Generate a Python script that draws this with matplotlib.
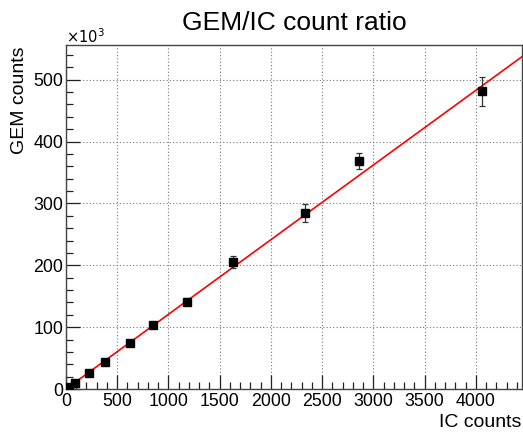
import matplotlib.pyplot as plt
from matplotlib.ticker import MultipleLocator
import numpy as np

plt.rcParams['font.family'] = ['Liberation Sans', 'DejaVu Sans']

# IC vs GEM counts per run
ic_counts = [32, 84, 227, 376, 620, 845, 1179, 1630, 2330, 2856, 4057]
gem_counts = [3200, 9700, 25800, 43000, 74300, 102700, 141000, 204500, 284300, 368800, 481000]
gem_errors = [300, 800, 1500, 2200, 3000, 3500, 5500, 9700, 14500, 13400, 23700]

# linear fit result (GEM = p0 + p1 * IC)
fit_p0 = 0.0
fit_p1 = 120.7

x_max = 4450
y_max = 556  # in units of 10^3

fig = plt.figure(figsize=(5.23, 4.32), dpi=100)
ax = fig.add_axes([66 / 523, 1 - 389 / 432, 456 / 523, 344 / 432])

x = np.array(ic_counts, dtype=float)
y = np.array(gem_counts, dtype=float) / 1e3
yerr = np.array(gem_errors, dtype=float) / 1e3

xf = np.linspace(0, x_max, 200)
ax.plot(xf, (fit_p0 + fit_p1 * xf) / 1e3, color='#ff0000', lw=1.2, zorder=3)

ax.errorbar(x, y, yerr=yerr, fmt='s', color='black', ms=5.6,
            ecolor='#333333', elinewidth=0.9, capsize=2.2, capthick=0.9, zorder=4)

ax.set_xlim(0, x_max)
ax.set_ylim(0, y_max)

ax.xaxis.set_major_locator(MultipleLocator(500))
ax.xaxis.set_minor_locator(MultipleLocator(100))
ax.yaxis.set_major_locator(MultipleLocator(100))
ax.yaxis.set_minor_locator(MultipleLocator(20))

ax.tick_params(which='both', direction='in', top=False, right=False,
               colors='#222222', labelcolor='black', labelsize=12.8)
ax.tick_params(which='major', length=10, width=0.9)
ax.tick_params(which='minor', length=5, width=0.9)
ax.tick_params(axis='x', pad=3)
ax.tick_params(axis='y', pad=2)

ax.grid(which='major', color='#777777', linestyle=(0, (1, 2)), lw=0.8)
for side in ax.spines.values():
    side.set_color('#444444')
    side.set_linewidth(1.0)

fig.text(294 / 523, 1 - 30 / 432, 'GEM/IC count ratio', ha='center', va='baseline', fontsize=19)
fig.text(66 / 523, 1 - 37 / 432, r'$\times10^{3}$', ha='left', va='center', fontsize=10.5)
fig.text(521 / 523, 1 - 427 / 432, 'IC counts', ha='right', va='baseline', fontsize=14)
fig.text(20 / 523, 1 - 46 / 432, 'GEM counts', ha='center', va='top', rotation=90, fontsize=14)

fig.savefig('out.png', dpi=100)
